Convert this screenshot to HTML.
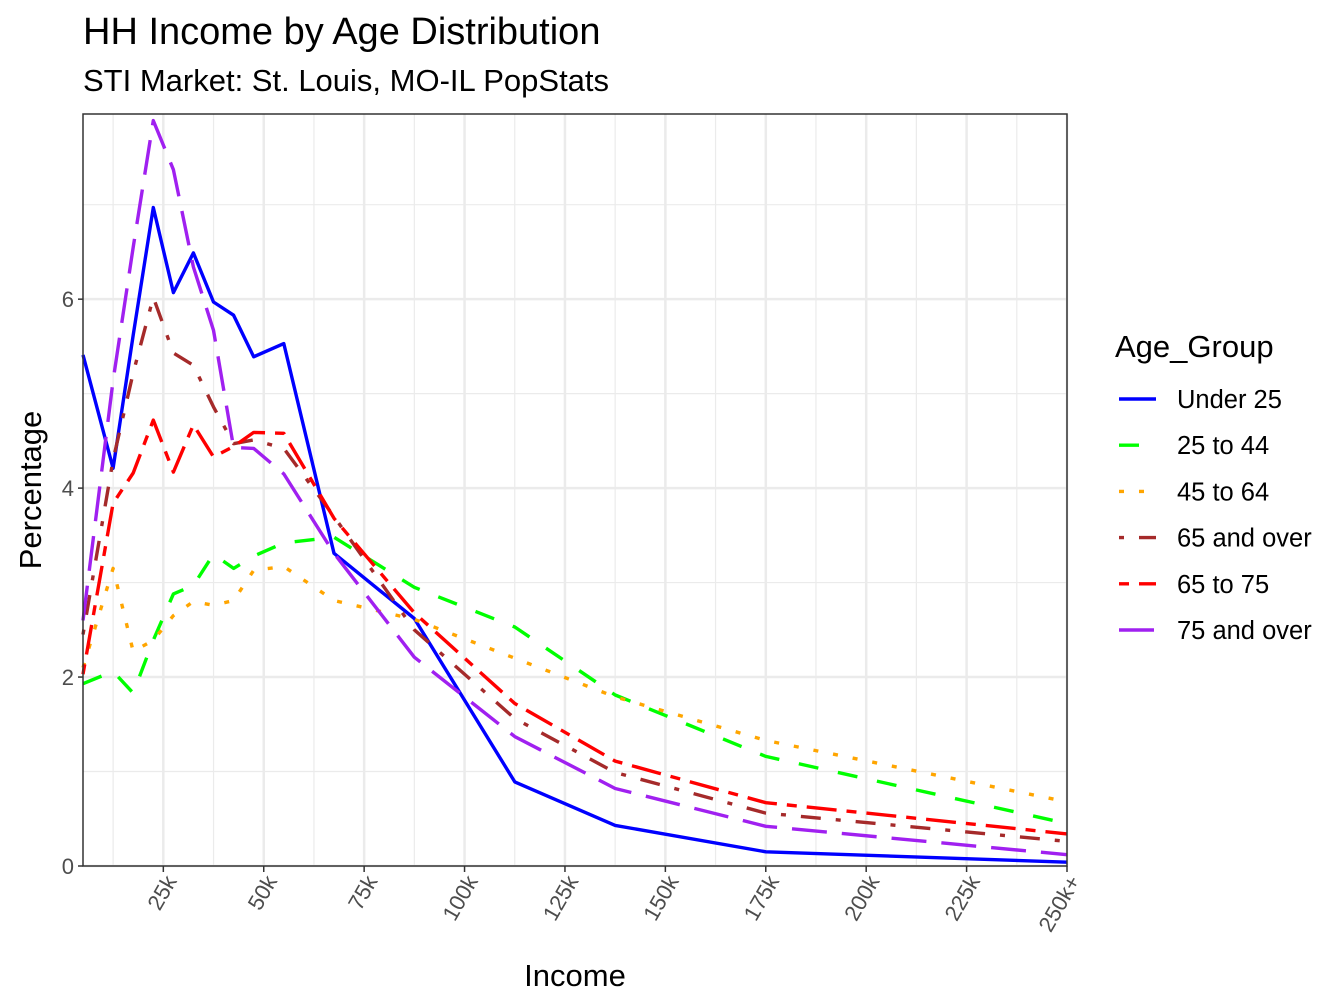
<!DOCTYPE html>
<html><head><meta charset="utf-8"><style>
body{margin:0;background:#fff;}
svg{display:block;font-family:"Liberation Sans",Arial,sans-serif;}
</style></head><body>
<svg id="chart" width="1344" height="1008" viewBox="0 0 1344 1008" xmlns="http://www.w3.org/2000/svg">
<rect width="1344" height="1008" fill="#fff"/>
<text x="83" y="44" font-size="38" fill="#000">HH Income by Age Distribution</text>
<text x="83" y="91" font-size="31" fill="#000">STI Market: St. Louis, MO-IL PopStats</text>
<g id="grid"></g>
<g id="series"></g>
<rect x="83" y="114" width="984" height="752" fill="none" stroke="#333" stroke-width="1.5"/>
<g id="axes"></g>
<text x="575" y="986" font-size="31" text-anchor="middle" fill="#000">Income</text>
<text transform="translate(41,490) rotate(-90)" font-size="31" text-anchor="middle" fill="#000">Percentage</text>
<g id="legend">
<text x="1115" y="357" font-size="31" fill="#000">Age_Group</text>
</g>
</svg>
<script>
const incomes = [5,12.5,17.5,22.5,27.5,32.5,37.5,42.5,47.5,55,67.5,87.5,112.5,137.5,175,250];
const under25 = [5.41,4.21,5.62,6.97,6.07,6.49,5.97,5.83,5.39,5.53,3.31,2.62,0.89,0.43,0.15,0.04];
const age25to44 = [1.93,2.06,1.83,2.39,2.88,2.97,3.30,3.15,3.28,3.42,3.48,2.95,2.53,1.81,1.16,0.45];
const age45to64 = [2.10,3.15,2.27,2.39,2.65,2.80,2.76,2.81,3.13,3.17,2.81,2.61,2.20,1.79,1.33,0.68];
const age65over = [2.45,4.30,5.22,6.02,5.43,5.30,4.86,4.47,4.51,4.42,3.70,2.50,1.56,0.99,0.56,0.26];
const age65to75 = [2.03,3.84,4.16,4.72,4.17,4.67,4.33,4.44,4.59,4.58,3.68,2.68,1.72,1.11,0.67,0.34];
const age75over = [2.60,5.14,6.55,7.89,7.37,6.34,5.67,4.43,4.42,4.15,3.31,2.21,1.37,0.82,0.42,0.12];
const seriesNames = ["Under 25","25 to 44","45 to 64","65 and over","65 to 75","75 and over"];
const xTickValues = [25,50,75,100,125,150,175,200,225,250];
const xTickLabels = ["25k","50k","75k","100k","125k","150k","175k","200k","225k","250k+"];
const yTickValues = [0,2,4,6];

const NS="http://www.w3.org/2000/svg";
const X0=83,X1=1067,Y0=866,Y1=114,XMIN=5,XMAX=250,YMAX=7.96;
function xs(v){return X0+(v-XMIN)/(XMAX-XMIN)*(X1-X0);}
function ys(v){return Y0-v/YMAX*(Y0-Y1);}
function mk(tag,attrs,parent){const e=document.createElementNS(NS,tag);for(const k in attrs)e.setAttribute(k,attrs[k]);parent.appendChild(e);return e;}

const grid=document.getElementById('grid');
for(let v=1;v<8;v+=2){const l=mk('line',{x1:X0,x2:X1,y1:ys(v),y2:ys(v),stroke:'#EBEBEB','stroke-width':1.2},grid);

}
for(let v=12.5;v<250;v+=25){const l=mk('line',{x1:xs(v),x2:xs(v),y1:Y1,y2:Y0,stroke:'#EBEBEB','stroke-width':1.2},grid);

}
yTickValues.forEach(v=>{const l=mk('line',{x1:X0,x2:X1,y1:ys(v),y2:ys(v),stroke:'#EBEBEB','stroke-width':2.5},grid);

});
xTickValues.forEach(v=>{const l=mk('line',{x1:xs(v),x2:xs(v),y1:Y1,y2:Y0,stroke:'#EBEBEB','stroke-width':2.5},grid);

});

const data=[under25,age25to44,age45to64,age65over,age65to75,age75over];
const colors=['#0000FF','#00FF00','#FFA500','#A52A2A','#FF0000','#A020F0'];
const dashes=['none','20 20','5 15','5 15 20 15','10 10 30 10','35 15'];
const sg=document.getElementById('series');
data.forEach((arr,i)=>{
 const d=arr.map((v,j)=>(j?'L':'M')+xs(incomes[j]).toFixed(1)+','+ys(v).toFixed(1)).join(' ');
 const p=mk('path',{d:d,fill:'none',stroke:colors[i],'stroke-width':3.4,'stroke-dasharray':dashes[i],'stroke-linejoin':'round'},sg);
 
 
});

const ax=document.getElementById('axes');
yTickValues.forEach(v=>{
 const t=mk('line',{x1:X0-5,x2:X0,y1:ys(v),y2:ys(v),stroke:'#333','stroke-width':1.5},ax);
 
 
 const tx=mk('text',{x:X0-9,y:ys(v)+8,'font-size':22,'text-anchor':'end',fill:'#4D4D4D'},ax);
 tx.textContent=String(v);
 
 
});
xTickValues.forEach((v,i)=>{
 const x=xs(v);
 const t=mk('line',{x1:x,x2:x,y1:Y0,y2:Y0+6,stroke:'#333','stroke-width':1.5},ax);
 
 
 const tx=mk('text',{x:0,y:0,'font-size':22,'text-anchor':'end',fill:'#4D4D4D',transform:'translate('+(x+14)+','+(Y0+15)+') rotate(-60)'},ax);
 tx.textContent=xTickLabels[i];
 
 
});

const lg=document.getElementById('legend');
seriesNames.forEach((n,i)=>{
 const y=399+i*46.2;
 const l=mk('line',{x1:1119,x2:1156,y1:y,y2:y,stroke:colors[i],'stroke-width':3.4,'stroke-dasharray':dashes[i]},lg);
 
 
 const t=mk('text',{x:1177,y:y+9,'font-size':25.5,fill:'#000'},lg);
 t.textContent=n;
 
 
});
</script>
</body></html>
